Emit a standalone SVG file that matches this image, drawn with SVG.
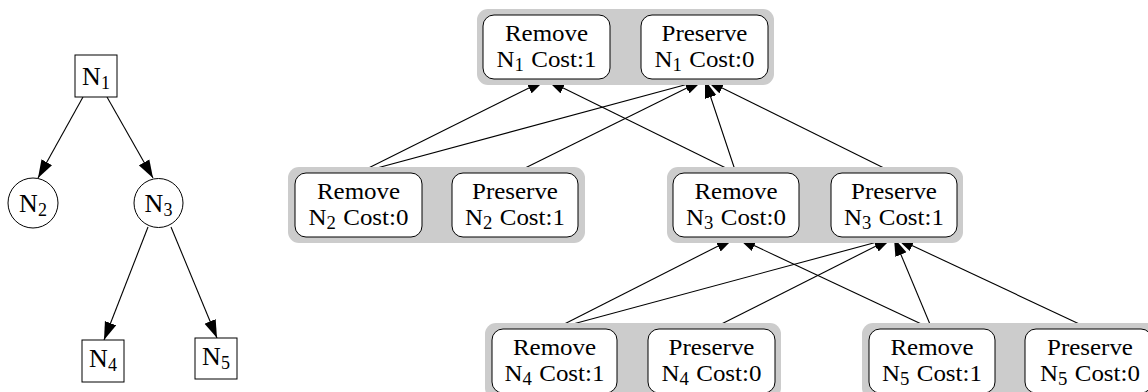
<svg xmlns="http://www.w3.org/2000/svg" width="1148" height="392" viewBox="0 0 1148 392">
  <style>
    .lbl { font-family: "Liberation Serif", "Times New Roman", serif; fill: #000; text-anchor: middle; }
    .big { font-size: 26px; }
    .box { font-size: 24px; }
    .sub { font-size: 18px; }
    .sub2 { font-size: 18px; }
    .node { fill: #fff; stroke: #000; stroke-width: 1; }
    .card { fill: #fff; stroke: #000; stroke-width: 1; }
    .grp { fill: #cccccc; stroke: none; }
    .edge { stroke: #000; stroke-width: 1.1; fill: none; marker-end: url(#arrow); }
  </style>
  <defs>
    <marker id="arrow" markerUnits="userSpaceOnUse" markerWidth="19" markerHeight="13" refX="18" refY="6.5" orient="auto">
      <path d="M0,0.5 L18,6.5 L0,12.5 z" fill="#000"/>
    </marker>
  </defs>
  <rect width="1148" height="392" fill="#fff"/>

  <!-- Left: original tree -->
  <g id="tree-edges">
    <line class="edge" x1="83" y1="97" x2="38" y2="178"/>
    <line class="edge" x1="107" y1="97" x2="153" y2="178"/>
    <line class="edge" x1="148" y1="227" x2="104" y2="340"/>
    <line class="edge" x1="171" y1="227" x2="217" y2="338"/>
  </g>
  <g id="tN1">
    <rect class="node" x="75" y="55" width="42" height="42"/>
    <text class="lbl big" x="96" y="85">N<tspan class="sub2" dy="4">1</tspan></text>
  </g>
  <g id="tN2">
    <circle class="node" cx="33" cy="203" r="25"/>
    <text class="lbl big" x="33" y="212">N<tspan class="sub2" dy="4">2</tspan></text>
  </g>
  <g id="tN3">
    <circle class="node" cx="158.5" cy="203" r="24.5"/>
    <text class="lbl big" x="158.5" y="212">N<tspan class="sub2" dy="4">3</tspan></text>
  </g>
  <g id="tN4">
    <rect class="node" x="82" y="340" width="42" height="42"/>
    <text class="lbl big" x="103" y="367">N<tspan class="sub2" dy="4">4</tspan></text>
  </g>
  <g id="tN5">
    <rect class="node" x="195" y="338" width="42" height="41"/>
    <text class="lbl big" x="216" y="365">N<tspan class="sub2" dy="4">5</tspan></text>
  </g>

  <!-- Right: cost graph -->
  <g id="cost-edges">
    <line class="edge" x1="358.5" y1="173" x2="545" y2="80"/>
    <line class="edge" x1="358.5" y1="173" x2="703" y2="80"/>
    <line class="edge" x1="515" y1="173" x2="703" y2="80"/>
    <line class="edge" x1="736" y1="173" x2="547" y2="80"/>
    <line class="edge" x1="736" y1="173" x2="705" y2="80"/>
    <line class="edge" x1="894" y1="173" x2="706" y2="80"/>
    <line class="edge" x1="554.5" y1="329" x2="734" y2="238"/>
    <line class="edge" x1="554.5" y1="329" x2="892" y2="238"/>
    <line class="edge" x1="711.5" y1="329" x2="892" y2="238"/>
    <line class="edge" x1="932" y1="329" x2="738" y2="238"/>
    <line class="edge" x1="932" y1="329" x2="894" y2="238"/>
    <line class="edge" x1="1090" y1="329" x2="896" y2="238"/>
  </g>

  <g id="N1-options">
    <rect class="grp" x="477" y="9" width="297" height="76" rx="11"/>
    <g id="remove-N1">
      <rect class="card" x="483" y="15" width="127" height="64" rx="11"/>
      <g transform="translate(546.5 0) scale(1.04 1)">
        <text class="lbl box" x="0" y="41">Remove</text>
        <text class="lbl box" x="0" y="67">N<tspan class="sub" dy="4">1</tspan><tspan dx="7" dy="-4">Cost:1</tspan></text>
      </g>
    </g>
    <g id="preserve-N1">
      <rect class="card" x="641" y="15" width="127" height="64" rx="11"/>
      <g transform="translate(704.5 0) scale(1.04 1)">
        <text class="lbl box" x="0" y="41">Preserve</text>
        <text class="lbl box" x="0" y="67">N<tspan class="sub" dy="4">1</tspan><tspan dx="7" dy="-4">Cost:0</tspan></text>
      </g>
    </g>
  </g>

  <g id="N2-options">
    <rect class="grp" x="288" y="167" width="297" height="76" rx="11"/>
    <g id="remove-N2">
      <rect class="card" x="295" y="173" width="127" height="64" rx="11"/>
      <g transform="translate(358.5 0) scale(1.04 1)">
        <text class="lbl box" x="0" y="199">Remove</text>
        <text class="lbl box" x="0" y="225">N<tspan class="sub" dy="4">2</tspan><tspan dx="7" dy="-4">Cost:0</tspan></text>
      </g>
    </g>
    <g id="preserve-N2">
      <rect class="card" x="452" y="173" width="126" height="64" rx="11"/>
      <g transform="translate(515 0) scale(1.04 1)">
        <text class="lbl box" x="0" y="199">Preserve</text>
        <text class="lbl box" x="0" y="225">N<tspan class="sub" dy="4">2</tspan><tspan dx="7" dy="-4">Cost:1</tspan></text>
      </g>
    </g>
  </g>

  <g id="N3-options">
    <rect class="grp" x="667" y="167" width="296" height="76" rx="11"/>
    <g id="remove-N3">
      <rect class="card" x="673" y="173" width="126" height="64" rx="11"/>
      <g transform="translate(736 0) scale(1.04 1)">
        <text class="lbl box" x="0" y="199">Remove</text>
        <text class="lbl box" x="0" y="225">N<tspan class="sub" dy="4">3</tspan><tspan dx="7" dy="-4">Cost:0</tspan></text>
      </g>
    </g>
    <g id="preserve-N3">
      <rect class="card" x="831" y="173" width="126" height="64" rx="11"/>
      <g transform="translate(894 0) scale(1.04 1)">
        <text class="lbl box" x="0" y="199">Preserve</text>
        <text class="lbl box" x="0" y="225">N<tspan class="sub" dy="4">3</tspan><tspan dx="7" dy="-4">Cost:1</tspan></text>
      </g>
    </g>
  </g>

  <g id="N4-options">
    <rect class="grp" x="485" y="323" width="296" height="76" rx="11"/>
    <g id="remove-N4">
      <rect class="card" x="492" y="329" width="125" height="64" rx="11"/>
      <g transform="translate(554.5 0) scale(1.04 1)">
        <text class="lbl box" x="0" y="355">Remove</text>
        <text class="lbl box" x="0" y="381">N<tspan class="sub" dy="4">4</tspan><tspan dx="7" dy="-4">Cost:1</tspan></text>
      </g>
    </g>
    <g id="preserve-N4">
      <rect class="card" x="648" y="329" width="127" height="64" rx="11"/>
      <g transform="translate(711.5 0) scale(1.04 1)">
        <text class="lbl box" x="0" y="355">Preserve</text>
        <text class="lbl box" x="0" y="381">N<tspan class="sub" dy="4">4</tspan><tspan dx="7" dy="-4">Cost:0</tspan></text>
      </g>
    </g>
  </g>

  <g id="N5-options">
    <rect class="grp" x="862" y="323" width="297" height="76" rx="11"/>
    <g id="remove-N5">
      <rect class="card" x="869" y="329" width="126" height="64" rx="11"/>
      <g transform="translate(932 0) scale(1.04 1)">
        <text class="lbl box" x="0" y="355">Remove</text>
        <text class="lbl box" x="0" y="381">N<tspan class="sub" dy="4">5</tspan><tspan dx="7" dy="-4">Cost:1</tspan></text>
      </g>
    </g>
    <g id="preserve-N5">
      <rect class="card" x="1025" y="329" width="127" height="64" rx="11"/>
      <g transform="translate(1090 0) scale(1.04 1)">
        <text class="lbl box" x="0" y="355">Preserve</text>
        <text class="lbl box" x="0" y="381">N<tspan class="sub" dy="4">5</tspan><tspan dx="7" dy="-4">Cost:0</tspan></text>
      </g>
    </g>
  </g>
</svg>
